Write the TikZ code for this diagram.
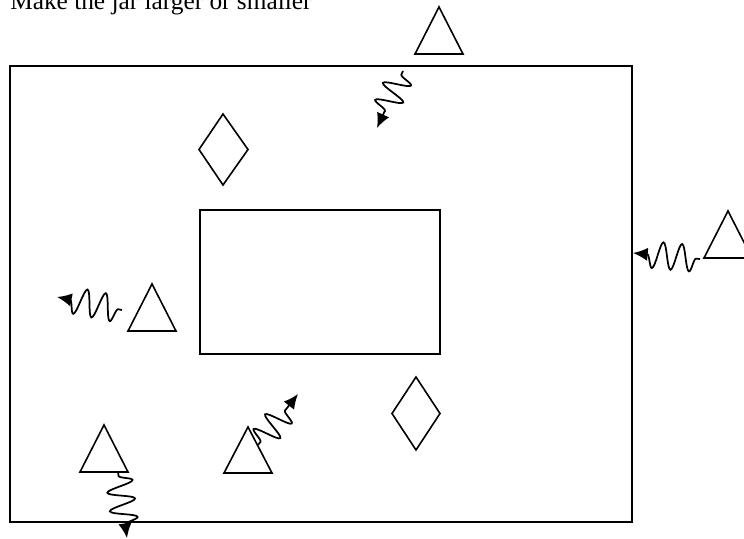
\documentclass[tikz,border=0pt]{standalone}
\usepackage{fontspec}
\setmainfont{Liberation Serif}
\usetikzlibrary{arrows.meta,decorations.pathmorphing}

\begin{document}
\begin{tikzpicture}[x=0.75pt, y=-0.75pt,
  wall/.style={line width=1.2pt},
  piece/.style={line width=1.2pt, line join=miter},
  squig/.style={line width=1.3pt, decorate,
    decoration={snake, amplitude=10pt, segment length=14pt, pre length=3pt, post length=9pt},
    -{Latex[length=11pt,width=10pt]}}]
\clip (0,0) rectangle (744,539);
\node[anchor=base west, inner sep=0, font=\fontsize{19}{22}\selectfont] (title) at (10,9.5) {Make the jar larger or smaller};
% jar walls
\draw[wall] (10,66) rectangle (632,522);
\draw[wall] (200,210) rectangle (440,354);
% diamonds
\draw[piece] (223,114) -- (248,149.5) -- (223,185) -- (199,149.5) -- cycle;
\draw[piece] (416,377) -- (440,413.5) -- (416,450) -- (392,413.5) -- cycle;
% triangles
\draw[piece] (439,7) -- (463,54) -- (415,54) -- cycle;
\draw[piece] (728,211) -- (752,258) -- (704,258) -- cycle;
\draw[piece] (152,284) -- (176,331) -- (128,331) -- cycle;
\draw[piece] (104,425) -- (128,472) -- (80,472) -- cycle;
\draw[piece] (248,427) -- (272,473) -- (224,473) -- cycle;
% squiggle ends
\coordinate (topA) at (403,71);
\coordinate (topB) at (377,128);
\coordinate (rightA) at (700,259);
\coordinate (rightB) at (633,253);
\coordinate (leftA) at (122,310);
\coordinate (leftB) at (57,297);
\coordinate (lowA) at (118,472);
\coordinate (lowB) at (127,538);
\coordinate (midA) at (258,445);
\coordinate (midB) at (298,394);
\draw[squig] (topA) -- (topB);
\draw[squig] (rightA) -- (rightB);
\draw[squig] (leftA) -- (leftB);
\draw[squig] (lowA) -- (lowB);
\draw[squig] (midA) -- (midB);
\end{tikzpicture}
\end{document}
